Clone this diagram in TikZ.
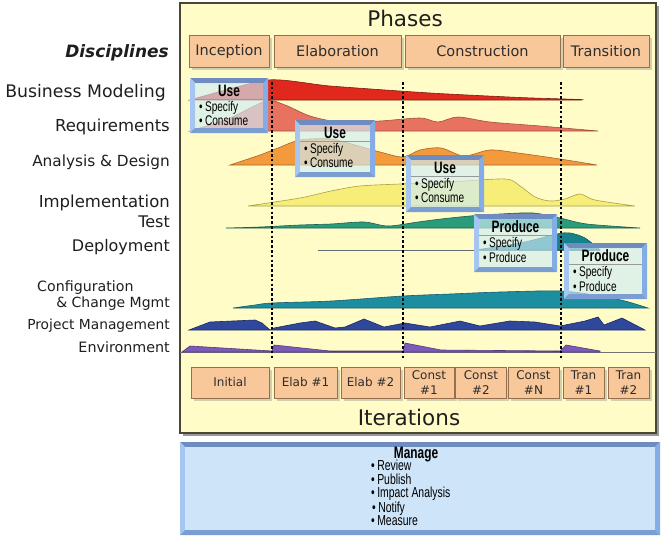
\documentclass[tikz,border=0pt]{standalone}
\usepackage{fontspec}
\setmainfont{DejaVu Sans}
\newfontfamily\narrowsans[FakeStretch=0.72]{Liberation Sans}
\usetikzlibrary{shadows}

\definecolor{panelfill}{RGB}{255,252,200}
\definecolor{panelline}{RGB}{74,70,54}
\definecolor{peach}{RGB}{249,200,154}
\definecolor{peachline}{RGB}{150,112,76}
\definecolor{labeltext}{RGB}{30,30,30}
\definecolor{boxtext}{RGB}{45,45,45}
% activity curves
\definecolor{bmcol}{RGB}{224,40,28}
\definecolor{bmline}{RGB}{120,30,20}
\definecolor{reqcol}{RGB}{232,114,96}
\definecolor{reqline}{RGB}{160,80,60}
\definecolor{adcol}{RGB}{242,154,60}
\definecolor{adline}{RGB}{170,100,40}
\definecolor{implcol}{RGB}{246,238,120}
\definecolor{implline}{RGB}{170,160,70}
\definecolor{testcol}{RGB}{42,156,124}
\definecolor{testline}{RGB}{26,96,80}
\definecolor{depcol}{RGB}{24,130,140}
\definecolor{depline}{RGB}{20,90,100}
\definecolor{depthin}{RGB}{96,110,110}
\definecolor{cmcol}{RGB}{28,142,160}
\definecolor{cmline}{RGB}{20,90,110}
\definecolor{pmcol}{RGB}{48,72,156}
\definecolor{pmline}{RGB}{30,40,100}
\definecolor{envcol}{RGB}{122,92,184}
\definecolor{envline}{RGB}{80,60,120}
% work product boxes
\definecolor{wtopc}{RGB}{110,140,192}
\definecolor{wleftc}{RGB}{164,198,240}
\definecolor{wrightc}{RGB}{132,172,230}
\definecolor{wbottomc}{RGB}{122,158,210}
\definecolor{wfacec}{RGB}{208,236,246}
\definecolor{managefill}{RGB}{206,228,248}

\tikzset{
  panel/.style={fill=panelfill, draw=panelline, line width=1.6pt},
  phasebox/.style={draw=peachline, line width=0.8pt, fill=peach, text=boxtext,
    inner sep=0pt, font=\fontsize{14.5}{17}\selectfont,
    drop shadow={shadow xshift=2.5pt, shadow yshift=-2.5pt, opacity=0.35}},
  iterbox/.style={phasebox, align=center, font=\fontsize{12}{15}\selectfont},
  title/.style={font=\fontsize{21.5}{24}\selectfont, text=labeltext, anchor=base, inner sep=0pt},
  disc/.style={font=\fontsize{16}{19}\selectfont, text=labeltext, anchor=base east, inner sep=0pt},
  curve/.style={line width=0.6pt},
  phasesep/.style={line width=2.6pt, dash pattern=on 2.6pt off 2.2pt, black},
  wtop/.style={fill=wtopc},
  wleft/.style={fill=wleftc},
  wright/.style={fill=wrightc},
  wbottom/.style={fill=wbottomc},
  wface/.style={fill=wfacec, fill opacity=0.66},
  wrule/.style={draw=black!40, line width=0.5pt},
  wtitle/.style={font=\narrowsans\fontsize{16.5}{18}\selectfont\bfseries, text=black, inner sep=0pt},
  witem/.style={font=\narrowsans\fontsize{14}{16}\selectfont, text=black, inner sep=0pt, anchor=west},
}

% bevelled work product box: x0, y0, x1, y1, title, item 1, item 2, name
\newcommand\workpanel[8]{%
  \fill[wtop] (#1,#2) -- (#3,#2) -- ({#3-5},{#2+5}) -- ({#1+5},{#2+5}) -- cycle;
  \fill[wleft] (#1,#2) -- ({#1+5},{#2+5}) -- ({#1+5},{#4-5}) -- (#1,#4) -- cycle;
  \fill[wright] (#3,#2) -- ({#3-5},{#2+5}) -- ({#3-5},{#4-5}) -- (#3,#4) -- cycle;
  \fill[wbottom] (#1,#4) -- ({#1+5},{#4-5}) -- ({#3-5},{#4-5}) -- (#3,#4) -- cycle;
  \fill[wface] ({#1+5},{#2+5}) rectangle ({#3-5},{#4-5});
  \draw[wrule] ({#1+5},{#2+21}) -- ({#3-5},{#2+21});
  \node[wtitle] (#8-title) at ({(#1+#3)/2},{#2+13}) {#5};
  \node[witem] (#8-a) at ({#1+9},{#2+30}) {•\,#6};
  \node[witem] (#8-b) at ({#1+9},{#2+43}) {•\,#7};
}

\begin{document}
\begin{tikzpicture}[x=1pt, y=-1pt]
\useasboundingbox (0,0) rectangle (663,538);

% main panel with shadow
\fill[black!40] (183,6) rectangle (659,436);
\draw[panel] (180,3) rectangle (656,433);

% titles
\node[title] (phases) at (405,27) {Phases};
\node[title] (iterations) at (409,425) {Iterations};

% phase boxes
\node[phasebox, minimum width=80pt, minimum height=32pt] (inc) at (229,51) {Inception};
\node[phasebox, minimum width=127pt, minimum height=32pt] (ela) at (337.5,51) {Elaboration};
\node[phasebox, minimum width=155pt, minimum height=32pt] (con) at (482.5,51) {Construction};
\node[phasebox, minimum width=86pt, minimum height=32pt] (tra) at (606,51) {Transition};

% discipline labels
\node[disc, font=\fontsize{17}{19}\selectfont\bfseries\itshape] (dlab) at (169,57) {Disciplines};
\node[disc, font=\fontsize{17.3}{19}\selectfont] (lbm) at (166,97) {Business Modeling};
\node[disc, font=\fontsize{16.5}{19}\selectfont] (lreq) at (170,131) {Requirements};
\node[disc, font=\fontsize{15.3}{19}\selectfont] (lad) at (170,166) {Analysis \& Design};
\node[disc, font=\fontsize{16.5}{19}\selectfont] (limpl) at (170,207) {Implementation};
\node[disc] (ltest) at (170,227) {Test};
\node[disc] (ldep) at (170,251) {Deployment};
\node[disc, anchor=base west, font=\fontsize{14.2}{17}\selectfont] (lcfg) at (37,291) {Configuration};
\node[disc, font=\fontsize{14}{17}\selectfont] (lcm) at (170,307) {\& Change Mgmt};
\node[disc, font=\fontsize{13.8}{17}\selectfont] (lpm) at (170,329) {Project Management};
\node[disc, font=\fontsize{14.3}{17}\selectfont] (lenv) at (170,352) {Environment};

% activity curves
\fill[reqcol, draw=reqline, curve] plot[smooth, tension=0.5] coordinates {
  (190,131) (230,118) (266,101) (285,105) (310,116) (340,122) (380,121)
  (420,118) (438,122) (458,117) (490,122) (540,126) (598,131)} -- cycle;
\fill[bmcol, draw=bmline, curve] plot[smooth, tension=0.4] coordinates {
  (190,100) (268,80) (330,86) (430,93) (520,97.5) (580,99.5) (581,100)} -- cycle;
\fill[adcol, draw=adline, curve] plot[smooth, tension=0.5] coordinates {
  (230,165) (260,155) (278,148) (300,140) (330,139) (355,145) (380,152)
  (403,157) (420,150) (441,148) (464,156) (490,150) (518,153) (560,159) (597,165)} -- cycle;
\fill[implcol, draw=implline, curve] plot[smooth, tension=0.5] coordinates {
  (248,206) (300,198) (331,191) (360,186) (400,184) (450,182) (505,179)
  (520,186) (535,197) (550,201) (565,199) (580,194) (595,200) (635,206)} -- cycle;
\fill[testcol, draw=testline, curve] plot[smooth, tension=0.5] coordinates {
  (226,228) (260,227) (300,225) (331,224) (364,222) (388,226) (418,222)
  (441,219) (470,216) (500,214) (533,213) (560,218) (587,224) (640,228)} -- cycle;
\draw[depthin, line width=0.9pt] (318,250) -- (600,250);
\fill[depcol, draw=depline, curve] plot[smooth, tension=0.5] coordinates {
  (475,250) (520,243) (557,234) (570,233) (585,238) (600,250)} -- cycle;
\fill[cmcol, draw=cmline, curve] plot[smooth, tension=0.5] coordinates {
  (233,308) (255,305) (272,303) (331,301) (403,296) (450,294) (500,292)
  (561,291) (600,296) (625,301) (648,308)} -- cycle;
\fill[pmcol, draw=pmline, curve] (189,330) -- (210,322) -- (255,320) -- (262,323)
  -- (270,330) -- (274,328) -- (300,323) -- (315,321) -- (335,328) -- (345,327)
  -- (364,319) -- (384,327) -- (405,323) -- (430,327) -- (460,321) -- (480,326)
  -- (510,321) -- (535,322) -- (560,326) -- (585,321) -- (598,317) -- (604,325)
  -- (622,318) -- (645,330) -- cycle;
\draw[black!55, line width=0.8pt] (180,352) -- (656,352);
\fill[envcol, draw=envline, curve] (182,352) -- (190,346) -- (272,351) -- (274,345)
  -- (330,351) -- (403,351) -- (405,343) -- (441,350) -- (560,351) -- (566,345)
  -- (600,351) -- (600,352) -- cycle;

% phase boundaries
\coordinate (s1t) at (272,82);  \coordinate (s1b) at (272,358);
\coordinate (s2t) at (403,82);  \coordinate (s2b) at (403,358);
\coordinate (s3t) at (561,82);  \coordinate (s3b) at (561,358);
\draw[phasesep] (s1t) -- (s1b);
\draw[phasesep] (s2t) -- (s2b);
\draw[phasesep] (s3t) -- (s3b);

% work product boxes
\workpanel{190}{78}{268}{133}{Use}{Specify}{Consume}{wa}
\workpanel{295}{120}{375}{177}{Use}{Specify}{Consume}{wb}
\workpanel{406}{155}{484}{212}{Use}{Specify}{Consume}{wc}
\workpanel{474}{214}{557}{272}{Produce}{Specify}{Produce}{wd}
\workpanel{564}{243}{647}{299}{Produce}{Specify}{Produce}{we}

% iteration boxes
\node[iterbox, minimum width=78pt, minimum height=31pt] (it1) at (230,382.5) {Initial};
\node[iterbox, minimum width=63pt, minimum height=31pt] (it2) at (305.5,382.5) {Elab \#1};
\node[iterbox, minimum width=59pt, minimum height=31pt] (it3) at (370.5,382.5) {Elab \#2};
\node[iterbox, minimum width=50pt, minimum height=31pt] (it4) at (429,382.5) {Const\\\#1};
\node[iterbox, minimum width=51pt, minimum height=31pt] (it5) at (481,382.5) {Const\\\#2};
\node[iterbox, minimum width=51pt, minimum height=31pt] (it6) at (533.5,382.5) {Const\\\#N};
\node[iterbox, minimum width=41pt, minimum height=31pt] (it7) at (583.5,382.5) {Tran\\\#1};
\node[iterbox, minimum width=41pt, minimum height=31pt] (it8) at (628.5,382.5) {Tran\\\#2};

% manage panel
\fill[wtop] (180,442) -- (660,442) -- (655,447) -- (185,447) -- cycle;
\fill[wleft] (180,442) -- (185,447) -- (185,530) -- (180,535) -- cycle;
\fill[wright] (660,442) -- (655,447) -- (655,530) -- (660,535) -- cycle;
\fill[wbottom] (180,535) -- (185,530) -- (655,530) -- (660,535) -- cycle;
\fill[managefill] (185,447) rectangle (655,530);
\node[wtitle, font=\narrowsans\fontsize{16.5}{18}\selectfont\bfseries] (mtitle) at (416,455) {Manage};
\node[witem, anchor=north west, align=left, font=\narrowsans\fontsize{14.5}{13.5}\selectfont] (mitems) at (371,460)
  {•\,Review\\•\,Publish\\•\,Impact Analysis\\\hspace*{1pt}•\,Notify\\•\,Measure};
\end{tikzpicture}
\end{document}
